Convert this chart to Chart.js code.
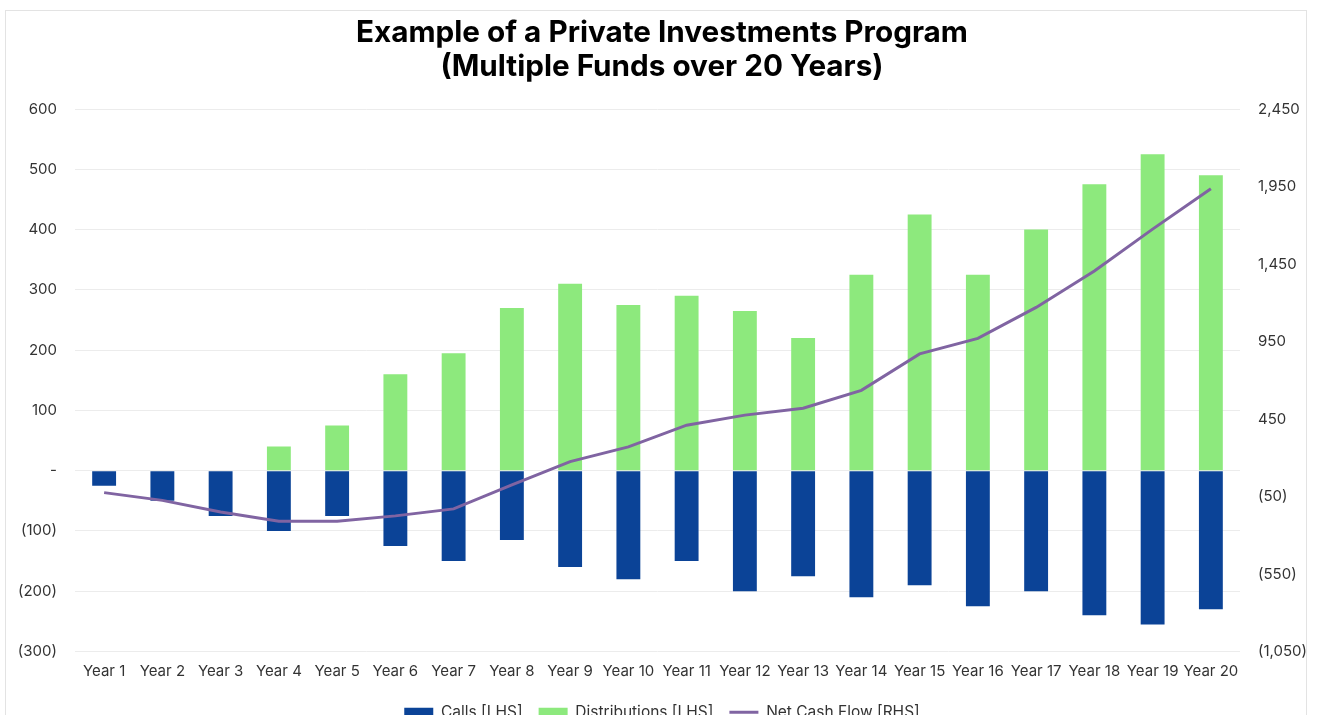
<!DOCTYPE html>
<html>
<head>
<meta charset="utf-8">
<script src="https://cdn.jsdelivr.net/npm/chart.js@4.4.0/dist/chart.umd.min.js"></script>
<style>
  html, body { margin: 0; padding: 0; background: #fff; overflow: hidden; }
  #frame {
    position: absolute; left: 5px; top: 10px;
    width: 1302px; height: 722px;
    border: 1px solid #e3e3e3; box-sizing: border-box;
  }
  #chart { position: absolute; left: 0; top: 0; }
</style>
</head>
<body>
<div id="frame"><canvas id="chart" width="1300" height="719"></canvas></div>
<script>
// values
var years = ["Year 1", "Year 2", "Year 3", "Year 4", "Year 5", "Year 6", "Year 7", "Year 8", "Year 9", "Year 10",
  "Year 11", "Year 12", "Year 13", "Year 14", "Year 15", "Year 16", "Year 17", "Year 18", "Year 19", "Year 20"]
var calls = [-25, -50, -75, -100, -75, -125, -150, -115, -160, -180,
  -150, -200, -175, -210, -190, -225, -200, -240, -255, -230]
var distributions = [0, 0, 0, 40, 75, 160, 195, 270, 310, 275,
  290, 265, 220, 325, 425, 325, 400, 475, 525, 490]
var netCashFlow = [-25, -75, -150, -210, -210, -175, -130, 25, 175, 270,
  410, 475, 520, 635, 870, 970, 1170, 1405, 1675, 1935]

var BLUE = "#0B4397"
var GREEN = "#8DE97D"
var PURPLE = "#8064A2"
var GRID = "#ececec"
var TXT = "#333333"

function fmt(v) {
  if (v === 0) return "-"
  var s = Math.abs(v).toLocaleString("en-US")
  return v < 0 ? "(" + s + ")" : s
}

Chart.defaults.font.family = "Inter, 'Noto Sans', sans-serif"
Chart.defaults.color = TXT

new Chart(document.getElementById("chart"), {
  data: {
    labels: years,
    datasets: [
      {
        type: "line",
        label: "Net Cash Flow [RHS]",
        data: netCashFlow,
        yAxisID: "yR",
        borderColor: PURPLE,
        backgroundColor: PURPLE,
        borderWidth: 3,
        pointRadius: 0,
        pointStyle: "line",
        tension: 0,
        order: 0,
      },
      {
        type: "bar",
        label: "Calls [LHS]",
        data: calls,
        yAxisID: "y",
        backgroundColor: BLUE,
        pointStyle: "rect",
        barPercentage: 0.41,
        categoryPercentage: 1,
        order: 1,
      },
      {
        type: "bar",
        label: "Distributions [LHS]",
        data: distributions,
        yAxisID: "y",
        backgroundColor: GREEN,
        pointStyle: "rect",
        barPercentage: 0.41,
        categoryPercentage: 1,
        order: 1,
      },
    ],
  },
  options: {
    responsive: false,
    animation: false,
    // a bit of left padding nudges the title and legend right, as in the source
    layout: { padding: { left: 12, right: 0, top: 0, bottom: 0 } },
    plugins: {
      title: {
        display: true,
        text: ["Example of a Private Investments Program", "(Multiple Funds over 20 Years)"],
        color: "#000",
        font: { size: 29.7, weight: "bold", lineHeight: 1.145 },
        padding: { top: 5, bottom: 25 },
      },
      legend: {
        position: "bottom",
        labels: {
          usePointStyle: true,
          pointStyleWidth: 29,
          boxHeight: 9,
          padding: 16,
          color: TXT,
          font: { size: 15.5 },
          sort: function (a, b) { return [1, 2, 0].indexOf(a.datasetIndex) - [1, 2, 0].indexOf(b.datasetIndex) },
        },
      },
      tooltip: { enabled: false },
    },
    scales: {
      x: {
        stacked: true,
        grid: { display: false, drawTicks: false },
        border: { display: false },
        ticks: { padding: 11, maxRotation: 0, autoSkip: false, font: { size: 15 }, color: TXT },
        afterFit: function (s) { s.height = 37 },
      },
      y: {
        stacked: true,
        position: "left",
        min: -300,
        max: 600,
        grid: { color: GRID, drawTicks: false },
        border: { display: false },
        ticks: { stepSize: 100, padding: 18, font: { size: 15 }, color: TXT, callback: fmt },
        afterFit: function (s) { s.width = 57 },
      },
      yR: {
        position: "right",
        min: -1050,
        max: 2450,
        grid: { display: false, drawTicks: false },
        border: { display: false },
        ticks: { stepSize: 500, padding: 18, font: { size: 15 }, color: TXT, callback: fmt },
        afterFit: function (s) { s.width = 66 },
      },
    },
  },
})
</script>
</body>
</html>
